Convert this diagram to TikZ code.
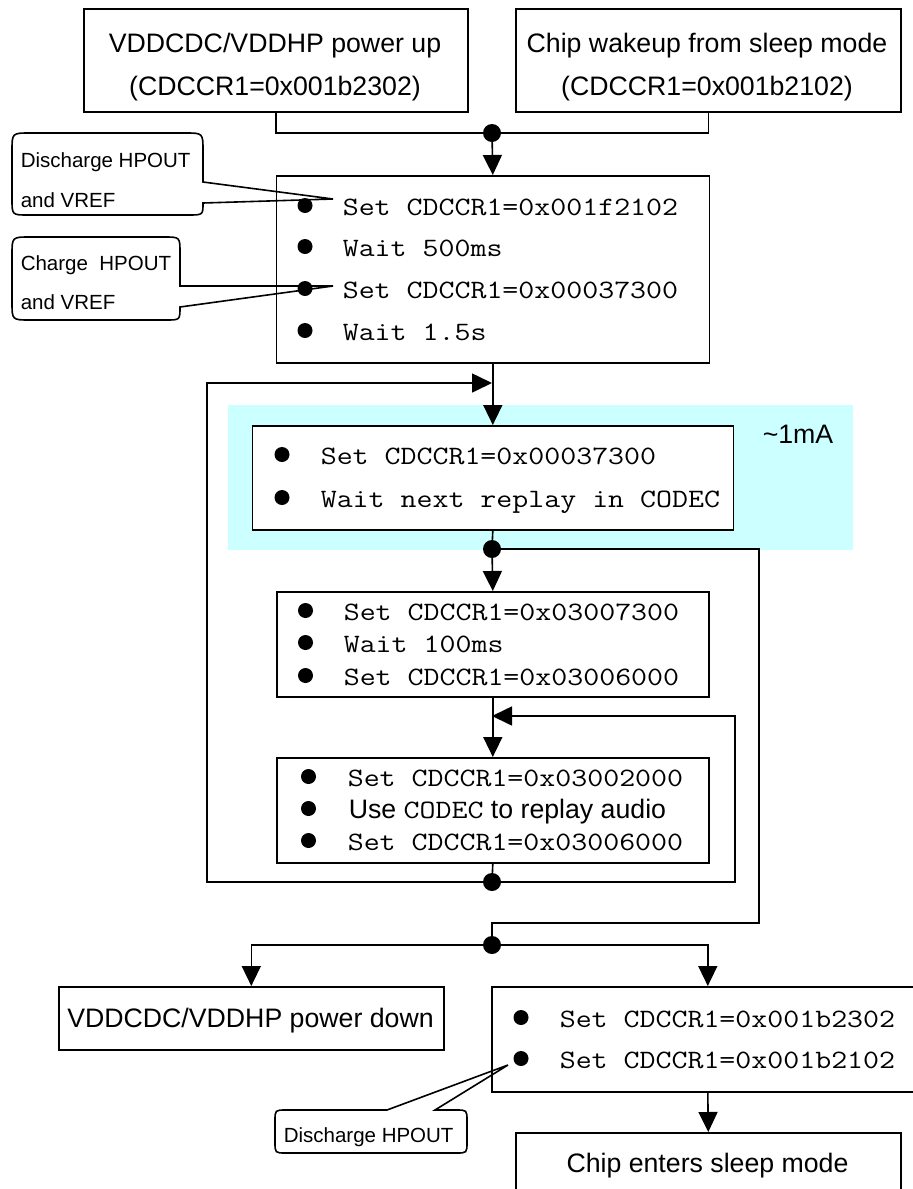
\documentclass[tikz,border=0pt]{standalone}
\usepackage{fontspec}
\setmainfont{Liberation Sans}
\setmonofont[FakeStretch=1.17]{Latin Modern Mono}
\usetikzlibrary{arrows.meta}
\definecolor{cyanbg}{RGB}{204,255,255}
\begin{document}
\begin{tikzpicture}[x=1pt,y=-1pt,line width=1.6pt,
  box/.style={draw,fill=white,inner sep=0pt,anchor=north west},
  hl/.style={fill=cyanbg,inner sep=0pt,anchor=north west},
  ttl/.style={inner sep=0pt,anchor=base,font=\fontsize{26.7}{32}\selectfont},
  mono/.style={inner sep=0pt,anchor=base west,font=\fontsize{26.5}{32}\selectfont\ttfamily},
  sans/.style={inner sep=0pt,anchor=base west,font=\fontsize{26.7}{32}\selectfont},
  cotxt/.style={inner sep=0pt,anchor=base west,font=\fontsize{20.5}{24}\selectfont},
  bul/.style={circle,fill,inner sep=0pt,minimum size=15pt},
  jdot/.style={circle,fill,inner sep=0pt,minimum size=18pt},
  arr/.style={-{Triangle[length=20pt,width=19pt]}}]
\useasboundingbox (0,0) rectangle (913,1189);
\fill[white] (0,0) rectangle (913,1189);
% highlight
\node[hl,minimum width=625pt,minimum height=145pt] (hlz) at (227,404) {};
% boxes
\node[box,minimum width=384pt,minimum height=103pt] (A) at (83,8) {};
\node[box,minimum width=385pt,minimum height=103pt] (B) at (515,8) {};
\node[box,minimum width=433pt,minimum height=187pt] (C) at (275.5,175) {};
\node[box,minimum width=481pt,minimum height=104pt] (D) at (251.5,425) {};
\node[box,minimum width=432pt,minimum height=105pt] (E) at (276,591) {};
\node[box,minimum width=432pt,minimum height=105pt] (F) at (276,757) {};
\node[box,minimum width=432pt,minimum height=105pt] (G) at (491,986) {};
\node[box,minimum width=385pt,minimum height=75pt] (H) at (515,1132) {};
\node[box,minimum width=385pt,minimum height=63pt] (I) at (58,986) {};
% junction dots
\node[jdot] (j1) at (492,133) {};
\node[jdot] (j2) at (492,549) {};
\node[jdot] (j3) at (492,882) {};
\node[jdot] (j4) at (492,945) {};
\coordinate (oR1) at (759,549);
\coordinate (oR2) at (759,923);
\coordinate (oM) at (492,923);
\coordinate (iR) at (735,716);
\coordinate (iM) at (492,716);
\coordinate (lL) at (207,383);
\coordinate (lM) at (492,383);
% connectors
\draw (A.south) |- (j1.center) -| (B.south);
\draw[arr] (j1.center) -- (C.north);
\draw[arr] (C.south) -- (D.north);
\draw (D.south) -- (j2.center);
\draw[arr] (j2.center) -- (E.north);
\draw (j2.center) -- (oR1) -- (oR2) -- (oM) -- (j4.center);
\draw[arr] (E.south) -- (F.north);
\draw (F.south) -- (j3.center);
\draw[arr] (j3.center) -| (iR) -- (iM);
\draw[arr] (j3.center) -| (lL) -- (lM);
\draw[arr] (j4.center) -| (I.north);
\draw[arr] (j4.center) -| (G.north);
\draw[arr] (G.south) -- (H.north);
% titles
\node[ttl] (a1) at (275,52) {VDDCDC/VDDHP power up};
\node[ttl] (a2) at (275,95) {(CDCCR1=0x001b2302)};
\node[ttl] (b1) at (707,52) {Chip wakeup from sleep mode};
\node[ttl] (b2) at (707,95) {(CDCCR1=0x001b2102)};
\node[ttl] (i1) at (250.5,1027) {VDDCDC/VDDHP power down};
\node[ttl] (h1) at (707.5,1172) {Chip enters sleep mode};
\node[sans] (ma) at (762,443) {\textasciitilde 1mA};
% box C
\node[bul] (cb1) at (305,205.5) {};
\node[bul] (cb2) at (305,246.5) {};
\node[bul] (cb3) at (305,288.5) {};
\node[bul] (cb4) at (305,330.5) {};
\node[mono] (ct1) at (342,215) {Set CDCCR1=0x001f2102};
\node[mono] (ct2) at (342,256) {Wait 500ms};
\node[mono] (ct3) at (342,298) {Set CDCCR1=0x00037300};
\node[mono] (ct4) at (342,340) {Wait 1.5s};
% box D
\node[bul] (db1) at (282,454.5) {};
\node[bul] (db2) at (282,497.5) {};
\node[mono] (dt1) at (320,464) {Set CDCCR1=0x00037300};
\node[mono] (dt2) at (320,507) {Wait next replay in CODEC};
% box E
\node[bul] (eb1) at (305.5,610.5) {};
\node[bul] (eb2) at (305.5,642.5) {};
\node[bul] (eb3) at (305.5,675.5) {};
\node[mono] (et1) at (343,620) {Set CDCCR1=0x03007300};
\node[mono] (et2) at (343,652) {Wait 100ms};
\node[mono] (et3) at (343,685) {Set CDCCR1=0x03006000};
% box F
\node[bul] (fb1) at (308.5,776.5) {};
\node[bul] (fb2) at (308.5,808.5) {};
\node[bul] (fb3) at (308.5,840.5) {};
\node[mono] (ft1) at (347,786) {Set CDCCR1=0x03002000};
\node[sans] (ft2) at (348,818) {Use {\fontsize{26.5}{32}\selectfont\ttfamily CODEC} to replay audio};
\node[mono] (ft3) at (347,850) {Set CDCCR1=0x03006000};
% box G
\node[bul] (gb1) at (521,1017.5) {};
\node[bul] (gb2) at (521,1058.5) {};
\node[mono] (gt1) at (559,1027) {Set CDCCR1=0x001b2302};
\node[mono] (gt2) at (559,1068) {Set CDCCR1=0x001b2102};
% callouts
\draw (203,182) -- (203,151) .. controls (203,133) .. (185,133) -- (30,133)
  .. controls (12,133) .. (12,151) -- (12,199) .. controls (12,215) .. (28,215)
  -- (188,215) .. controls (203,215) .. (203,203) -- (333,199) -- cycle;
\draw (180,286) -- (180,253) .. controls (180,237) .. (164,237) -- (30,237)
  .. controls (12,237) .. (12,255) -- (12,302) .. controls (12,320) .. (30,320)
  -- (166,320) .. controls (180,320) .. (180,307) -- (333,286) -- cycle;
\draw (387,1110) -- (508,1065) -- (435,1110) -- (456,1110) .. controls (467,1110) .. (467,1121)
  -- (467,1142) .. controls (467,1153) .. (456,1153) -- (286,1153)
  .. controls (275,1153) .. (275,1142) -- (275,1121) .. controls (275,1110) .. (286,1110) -- cycle;
\node[cotxt] (c1a) at (20,167) {Discharge HPOUT};
\node[cotxt] (c1b) at (20,207) {and VREF};
\node[cotxt] (c2a) at (20,270) {Charge~ HPOUT};
\node[cotxt] (c2b) at (20,309) {and VREF};
\node[cotxt] (c3a) at (283,1142) {Discharge HPOUT};
\end{tikzpicture}
\end{document}
